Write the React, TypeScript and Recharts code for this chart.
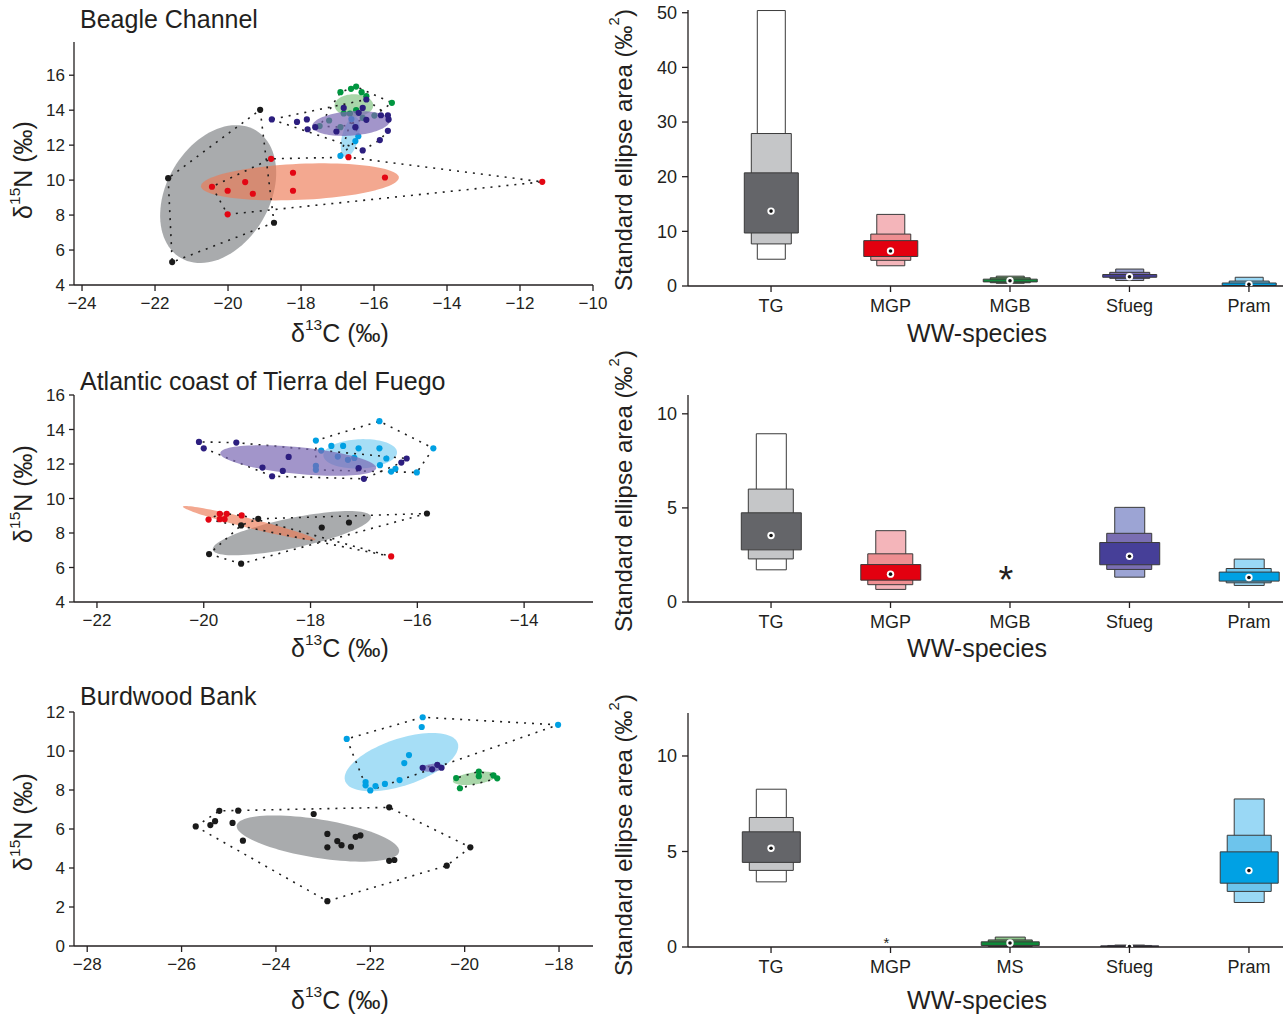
import React from 'react';
import { ScatterChart, Scatter, XAxis, YAxis, ComposedChart, Bar, Cell } from 'recharts';

type Pt = [number, number];

const FONT = '"Liberation Sans", Arial, Helvetica, sans-serif';
const INK = '#231f20';

// ---------- Beagle Channel: isotope values (d13C, d15N) ----------
const BC_TG: Pt[] = [[-21.64, 10.11], [-19.12, 14.02], [-18.74, 7.56], [-21.53, 5.31]];
const BC_MGP: Pt[] = [[-20.44, 9.62], [-20.01, 9.39], [-19.53, 9.89], [-19.32, 9.22], [-18.82, 11.22], [-20.01, 8.04], [-18.22, 10.42], [-18.22, 9.39], [-15.7, 10.15], [-16.7, 11.31], [-11.39, 9.9]];
const BC_SFUEG: Pt[] = [[-18.8, 13.47], [-18.11, 13.33], [-17.84, 13.47], [-17.82, 12.91], [-17.61, 13.03], [-17.03, 12.78], [-16.83, 14.13], [-16.31, 14.13], [-16.21, 14.61], [-16.42, 13.85], [-16.21, 13.45], [-15.81, 13.71], [-15.62, 13.71], [-15.6, 13.47], [-15.62, 12.82], [-15.84, 12.29], [-16.31, 11.7], [-16.51, 13.03]];
const BC_MGB: Pt[] = [[-16.92, 15.03], [-16.63, 15.22], [-16.49, 15.35], [-16.34, 15.03], [-16.21, 14.8], [-15.51, 14.42], [-17.49, 13.09], [-17.23, 13.41], [-16.92, 13.03], [-16.83, 13.81], [-16.66, 13.81], [-16.49, 14.0], [-16.31, 13.56], [-15.99, 13.69]];
const BC_PRAM: Pt[] = [[-16.62, 13.49], [-16.51, 13.03], [-16.43, 12.51], [-16.51, 12.23], [-16.92, 11.39]];
// standard ellipses: centre, end of one semi-axis, end of the other semi-axis
const BC_ELL_TG: Pt[] = [[-20.27, 9.2], [-19.25, 12.86], [-19.05, 7.73]];
const BC_ELL_MGP: Pt[] = [[-18.03, 9.9], [-15.32, 10.15], [-18.01, 8.87]];
const BC_ELL_SFUEG: Pt[] = [[-16.63, 13.24], [-15.57, 13.37], [-16.65, 12.54]];
const BC_ELL_MGB: Pt[] = [[-16.55, 14.27], [-16.02, 14.27], [-16.55, 14.91]];
const BC_ELL_PRAM: Pt[] = [[-16.65, 12.47], [-16.51, 13.62], [-16.43, 12.36]];

// ---------- Atlantic coast of Tierra del Fuego ----------
const AT_TG: Pt[] = [[-18.98, 8.82], [-19.3, 8.44], [-17.79, 8.32], [-17.28, 8.61], [-15.82, 9.13], [-19.9, 6.78], [-19.3, 6.22]];
const AT_MGP: Pt[] = [[-19.91, 8.78], [-19.7, 9.11], [-19.57, 9.11], [-19.7, 8.8], [-19.61, 8.8], [-19.29, 9.02], [-16.49, 6.64]];
const AT_SFUEG: Pt[] = [[-20.09, 13.28], [-20.0, 12.91], [-19.39, 13.24], [-18.41, 12.41], [-18.9, 11.79], [-18.52, 11.6], [-18.72, 11.29], [-17.1, 11.76], [-17.0, 11.14], [-16.3, 12.08], [-16.2, 12.32]];
const AT_PRAM: Pt[] = [[-16.71, 14.48], [-17.9, 13.36], [-17.8, 12.78], [-17.61, 13.05], [-17.39, 13.05], [-17.1, 12.91], [-16.71, 12.91], [-16.58, 12.32], [-16.7, 11.93], [-16.49, 11.56], [-16.41, 11.72], [-16.01, 11.51], [-15.7, 12.91], [-17.49, 12.43], [-17.3, 12.24], [-17.18, 12.35], [-17.9, 11.89], [-17.9, 11.66]];
const AT_ELL_TG: Pt[] = [[-18.35, 7.99], [-16.87, 8.96], [-18.28, 7.15]];
const AT_ELL_MGP: Pt[] = [[-19.15, 8.57], [-17.91, 7.61], [-19.18, 8.31]];
const AT_ELL_SFUEG: Pt[] = [[-18.23, 12.2], [-16.77, 11.76], [-18.26, 11.43]];
const AT_ELL_PRAM: Pt[] = [[-17.07, 12.59], [-16.38, 12.66], [-17.08, 11.74]];

// ---------- Burdwood Bank ----------
const BB_TG: Pt[] = [[-25.7, 6.13], [-25.39, 6.2], [-25.29, 6.4], [-25.2, 6.93], [-24.92, 6.31], [-24.8, 6.94], [-24.7, 5.4], [-23.2, 6.77], [-21.6, 7.11], [-19.88, 5.06], [-20.38, 4.12], [-22.91, 2.3], [-22.91, 5.75], [-22.7, 5.38], [-22.61, 5.17], [-22.41, 5.09], [-22.31, 5.6], [-22.21, 5.67], [-22.91, 5.06], [-21.6, 4.37], [-21.49, 4.41]];
const BB_PRAM: Pt[] = [[-22.5, 10.62], [-20.89, 11.73], [-20.91, 11.23], [-18.02, 11.34], [-21.18, 9.79], [-21.28, 9.38], [-22.1, 8.41], [-22.1, 8.24], [-22.0, 7.98], [-21.89, 8.2], [-21.69, 8.31], [-21.38, 8.51]];
const BB_SFUEG: Pt[] = [[-20.89, 9.14], [-20.69, 9.06], [-20.49, 9.14], [-20.58, 9.29]];
const BB_MS: Pt[] = [[-20.18, 8.61], [-20.1, 8.09], [-19.7, 8.95], [-19.7, 8.71], [-19.39, 8.75], [-19.31, 8.6]];
const BB_ELL_TG: Pt[] = [[-23.11, 5.51], [-21.39, 4.83], [-23.19, 4.54]];
const BB_ELL_PRAM: Pt[] = [[-21.34, 9.43], [-20.15, 10.42], [-21.16, 8.31]];
const BB_ELL_MS: Pt[] = [[-19.79, 8.6], [-19.33, 8.75], [-19.78, 8.29]];
const BB_ELL_SFUEG: Pt[] = [[-20.68, 9.14], [-20.44, 9.19], [-20.68, 8.94]];

// ---------- Standard ellipse areas (credible intervals 95/75/50 %, mode) ----------
const BC_CATS = ['TG', 'MGP', 'MGB', 'Sfueg', 'Pram'];
const BC_CI95 = [[4.9, 50.4], [3.7, 13.1], [0.5, 1.8], [1.0, 3.1], [0.0, 1.6]];
const BC_CI75 = [[7.7, 27.9], [4.7, 9.5], [0.6, 1.5], [1.4, 2.5], [0.05, 0.9]];
const BC_CI50 = [[9.7, 20.7], [5.4, 8.3], [0.75, 1.25], [1.6, 2.1], [0.1, 0.55]];
const BC_MODE = [13.7, 6.4, 0.95, 1.7, 0.3];
const BC_STAR: (number | null)[] = [null, null, null, null, null];

const AT_CATS = ['TG', 'MGP', 'MGB', 'Sfueg', 'Pram'];
const AT_CI95 = [[1.71, 8.94], [0.67, 3.79], null, [1.32, 5.03], [0.88, 2.28]];
const AT_CI75 = [[2.29, 6.0], [0.92, 2.56], null, [1.73, 3.65], [1.02, 1.78]];
const AT_CI50 = [[2.77, 4.74], [1.16, 1.99], null, [1.98, 3.16], [1.11, 1.59]];
const AT_MODE = [3.53, 1.48, null, 2.43, 1.3];
const AT_STAR = [null, null, 1.59, null, null];

const BB_CATS = ['TG', 'MGP', 'MS', 'Sfueg', 'Pram'];
const BB_CI95 = [[3.41, 8.26], null, [0.0, 0.52], [0.0, 0.1], [2.33, 7.75]];
const BB_CI75 = [[4.01, 6.78], null, [0.03, 0.37], [0.0, 0.08], [2.91, 5.85]];
const BB_CI50 = [[4.43, 6.03], null, [0.08, 0.27], [0.01, 0.06], [3.34, 4.98]];
const BB_MODE = [5.17, null, 0.21, 0.02, 4.0];
const BB_STAR = [null, 0.38, null, null, null];

// ---------- styles ----------
const SP: Record<string, { pt: string; el: string; op: number; box: string[] }> = {
  TG: { pt: '#1a1a1a', el: '#9a9c9f', op: 0.85, box: ['#ffffff', '#c5c6c8', '#646569'] },
  MGP: { pt: '#e30613', el: '#ec7a55', op: 0.65, box: ['#f4b5ba', '#ee8e91', '#e3000f'] },
  MGB: { pt: '#009640', el: '#62b463', op: 0.55, box: ['#8cc58a', '#4f9e55', '#0f8a3a'] },
  MS: { pt: '#009640', el: '#62b463', op: 0.55, box: ['#8cc58a', '#4f9e55', '#0f8a3a'] },
  Sfueg: { pt: '#2c1e7f', el: '#7a68b3', op: 0.7, box: ['#9ca4d4', '#7a6eb2', '#463f98'] },
  Pram: { pt: '#00a0e3', el: '#5cc3ef', op: 0.55, box: ['#9ad8f5', '#6dc4ec', '#00a1e4'] },
};

const fmt = (v: number) => (v < 0 ? '\u2212' + Math.abs(v) : String(v));
const toXY = (a: Pt[]) => a.map(([x, y]) => ({ x, y }));

function hull(pts: Pt[]) {
  const p = toXY(pts).sort((a, b) => a.x - b.x || a.y - b.y);
  if (p.length < 3) return p;
  const cr = (o: any, a: any, b: any) => (a.x - o.x) * (b.y - o.y) - (a.y - o.y) * (b.x - o.x);
  const lo: any[] = [];
  for (const q of p) {
    while (lo.length >= 2 && cr(lo[lo.length - 2], lo[lo.length - 1], q) <= 0) lo.pop();
    lo.push(q);
  }
  const up: any[] = [];
  for (const q of [...p].reverse()) {
    while (up.length >= 2 && cr(up[up.length - 2], up[up.length - 1], q) <= 0) up.pop();
    up.push(q);
  }
  lo.pop();
  up.pop();
  const h = lo.concat(up);
  h.push(h[0]);
  return h;
}

function ellipseLine(fill: string, op: number) {
  return (props: any) => {
    const p = props.points;
    if (!p || p.length < 3) return <g />;
    const c = p[0], u = p[1], v = p[2];
    const ux = u.x - c.x, uy = u.y - c.y, vx = v.x - c.x, vy = v.y - c.y;
    let d = '';
    const N = 96;
    for (let k = 0; k < N; k++) {
      const t = (k / N) * Math.PI * 2;
      const x = c.x + ux * Math.cos(t) + vx * Math.sin(t);
      const y = c.y + uy * Math.cos(t) + vy * Math.sin(t);
      d += (k === 0 ? 'M' : 'L') + x.toFixed(2) + ',' + y.toFixed(2);
    }
    return <path d={d + 'Z'} fill={fill} fillOpacity={op} stroke="none" />;
  };
}

const none = () => <g />;

interface Group { sp: string; pts: Pt[]; ell: Pt[] }

function IsoPanel({ plotTop, plotBottom, xDomain, xTicks, yDomain, yTicks, groups }: {
  plotTop: number; plotBottom: number; xDomain: [number, number]; xTicks: number[];
  yDomain: [number, number]; yTicks: number[]; groups: Group[];
}) {
  const top = plotTop - 20;
  const height = plotBottom - plotTop + 60;
  const back = groups.filter((g) => g.sp !== 'Sfueg');
  const front = groups.filter((g) => g.sp === 'Sfueg');
  const tickStyle = { fontSize: 17, fill: INK, fontFamily: FONT };
  const axisStyle = { stroke: INK, strokeWidth: 1.3 };
  return (
    <div style={{ position: 'absolute', left: 0, top, width: 610, height }}>
      <ScatterChart width={610} height={height} margin={{ top: 20, right: 17, left: 34, bottom: 0 }}>
        <XAxis type="number" dataKey="x" domain={xDomain} ticks={xTicks} allowDataOverflow interval={0}
          tickFormatter={fmt} height={40} tick={tickStyle} axisLine={axisStyle} tickLine={axisStyle} tickSize={6} tickMargin={6} />
        <YAxis type="number" dataKey="y" domain={yDomain} ticks={yTicks} allowDataOverflow interval={0}
          tickFormatter={fmt} width={40} tick={tickStyle} axisLine={axisStyle} tickLine={axisStyle} tickSize={5} tickMargin={4} />
        {back.map((g) => (
          <Scatter key={'e' + g.sp} data={toXY(g.ell)} shape={none} line={ellipseLine(SP[g.sp].el, SP[g.sp].op)} isAnimationActive={false} />
        ))}
        {groups.map((g) => (
          <Scatter key={'h' + g.sp} data={hull(g.pts)} shape={none}
            line={{ stroke: '#1e1e1e', strokeWidth: 1.6, strokeDasharray: '2 6' }} isAnimationActive={false} />
        ))}
        {back.map((g) => (
          <Scatter key={'p' + g.sp} data={toXY(g.pts)} isAnimationActive={false}
            shape={(p: any) => <circle cx={p.cx} cy={p.cy} r={3.1} fill={SP[g.sp].pt} />} />
        ))}
        {front.map((g) => (
          <Scatter key={'e' + g.sp} data={toXY(g.ell)} shape={none} line={ellipseLine(SP[g.sp].el, SP[g.sp].op)} isAnimationActive={false} />
        ))}
        {front.map((g) => (
          <Scatter key={'p' + g.sp} data={toXY(g.pts)} isAnimationActive={false}
            shape={(p: any) => <circle cx={p.cx} cy={p.cy} r={3.1} fill={SP[g.sp].pt} />} />
        ))}
      </ScatterChart>
    </div>
  );
}

function SeaPanel({ plotTop, plotBottom, cats, ci95, ci75, ci50, mode, star, starSize, yMax, yTicks, widths }: {
  plotTop: number; plotBottom: number; cats: string[]; ci95: any[]; ci75: any[]; ci50: any[];
  mode: (number | null)[]; star: (number | null)[]; starSize: number; yMax: number; yTicks: number[]; widths: number[];
}) {
  const top = Math.max(0, plotTop - 20);
  const mTop = plotTop - top;
  const height = plotBottom - top + 40;
  const rows = cats.map((c, i) => ({
    i, c,
    ci95: ci95[i] ?? [0, 0], ci75: ci75[i] ?? [0, 0], ci50: ci50[i] ?? [0, 0],
    missing: ci95[i] == null,
  }));
  const modeRows = mode.map((v, i) => ({ i, v })).filter((r) => r.v != null);
  const starRows = star.map((v, i) => ({ i, v })).filter((r) => r.v != null);
  const tickStyle = { fontSize: 18, fill: INK, fontFamily: FONT };
  const axisStyle = { stroke: INK, strokeWidth: 1.3 };
  const dom: [number, number] = [-0.695, 4.285];
  const ticks = [0, 1, 2, 3, 4];
  const layers: [string, string, number, number][] = [
    ['ci95', 'b', widths[0], 0],
    ['ci75', 'c', widths[1], 1],
    ['ci50', 'a', widths[2], 2],
  ];
  return (
    <div style={{ position: 'absolute', left: 640, top, width: 645, height }}>
      <ComposedChart width={645} height={height} data={rows} margin={{ top: mTop, right: 2, left: 8, bottom: 0 }}>
        <XAxis xAxisId="a" type="number" dataKey="i" domain={dom} ticks={ticks} allowDataOverflow interval={0}
          tickFormatter={(v: number) => cats[v] ?? ''} height={40} tick={tickStyle} axisLine={axisStyle} tickLine={axisStyle} tickSize={6} tickMargin={7} />
        <XAxis xAxisId="b" type="number" dataKey="i" domain={dom} ticks={ticks} allowDataOverflow hide height={0}
          tick={false} tickLine={false} axisLine={false} />
        <XAxis xAxisId="c" type="number" dataKey="i" domain={dom} ticks={ticks} allowDataOverflow hide height={0}
          tick={false} tickLine={false} axisLine={false} />
        <YAxis type="number" domain={[0, yMax]} ticks={yTicks} allowDataOverflow interval={0}
          width={40} tick={tickStyle} axisLine={axisStyle} tickLine={axisStyle} tickSize={6} tickMargin={5} />
        {layers.map(([key, axis, w, li]) => (
          <Bar key={key} xAxisId={axis} dataKey={key} barSize={w} isAnimationActive={false}>
            {rows.map((r) => (
              <Cell key={r.c} fill={r.missing ? 'none' : SP[r.c].box[li]} stroke={r.missing ? 'none' : '#3a3a3a'} strokeWidth={1} />
            ))}
          </Bar>
        ))}
        <Scatter xAxisId="a" data={modeRows} dataKey="v" isAnimationActive={false}
          shape={(p: any) => (
            <g>
              <circle cx={p.cx} cy={p.cy} r={3.7} fill="#ffffff" />
              <circle cx={p.cx} cy={p.cy} r={1.8} fill="#111111" />
            </g>
          )} />
        {starRows.length > 0 && (
          <Scatter xAxisId="a" data={starRows} dataKey="v" isAnimationActive={false}
            shape={(p: any) => (
              <text x={p.cx - 4} y={p.cy + starSize * 0.55} textAnchor="middle" fontSize={starSize} fontFamily={FONT} fill={INK}>*</text>
            )} />
        )}
      </ComposedChart>
    </div>
  );
}

const T = { fontFamily: FONT, fill: INK };

function Sup({ base, sup, rest, size }: { base: string; sup: string; rest: string; size: number }) {
  return (
    <>
      {base}
      <tspan dy={-size * 0.36} fontSize={size * 0.62}>{sup}</tspan>
      <tspan dy={size * 0.36}>{rest}</tspan>
    </>
  );
}

function Labels() {
  const L = 25;
  const rows = [
    { title: 'Beagle Channel', ty: 28, ny: 170, cy: 333, sy: 150 },
    { title: 'Atlantic coast of Tierra del Fuego', ty: 390, ny: 494, cy: 648, sy: 491 },
    { title: 'Burdwood Bank', ty: 705, ny: 822, cy: 1000, sy: 835 },
  ];
  return (
    <svg width={1285} height={1016} style={{ position: 'absolute', left: 0, top: 0, pointerEvents: 'none' }}>
      {rows.map((r) => (
        <g key={r.title}>
          <text x={80} y={r.ty} fontSize={L} {...T}>{r.title}</text>
          <text transform="rotate(-90)" x={-r.ny} y={23} fontSize={L} textAnchor="middle" dominantBaseline="central" {...T}>
            <Sup base={'\u03b4'} sup="15" rest={'N (\u2030)'} size={L} />
          </text>
          <text x={340} y={r.cy} fontSize={L} textAnchor="middle" dominantBaseline="central" {...T}>
            <Sup base={'\u03b4'} sup="13" rest={'C (\u2030)'} size={L} />
          </text>
          <text transform="rotate(-90)" x={-r.sy} y={623} fontSize={24} textAnchor="middle" dominantBaseline="central" {...T}>
            <Sup base={'Standard ellipse area (\u2030'} sup="2" rest=")" size={24} />
          </text>
          <text x={977} y={r.cy} fontSize={L} textAnchor="middle" dominantBaseline="central" {...T}>WW-species</text>
        </g>
      ))}
    </svg>
  );
}

export default function App() {
  return (
    <div style={{ position: 'absolute', left: 0, top: 0, width: 1285, height: 1016, background: '#ffffff', overflow: 'hidden', fontFamily: FONT }}>
      <IsoPanel plotTop={42} plotBottom={285} xDomain={[-24.22, -10]} xTicks={[-24, -22, -20, -18, -16, -14, -12, -10]}
        yDomain={[4, 17.9]} yTicks={[4, 6, 8, 10, 12, 14, 16]}
        groups={[
          { sp: 'TG', pts: BC_TG, ell: BC_ELL_TG },
          { sp: 'MGP', pts: BC_MGP, ell: BC_ELL_MGP },
          { sp: 'MGB', pts: BC_MGB, ell: BC_ELL_MGB },
          { sp: 'Pram', pts: BC_PRAM, ell: BC_ELL_PRAM },
          { sp: 'Sfueg', pts: BC_SFUEG, ell: BC_ELL_SFUEG },
        ]} />
      <IsoPanel plotTop={395} plotBottom={602} xDomain={[-22.43, -12.71]} xTicks={[-22, -20, -18, -16, -14]}
        yDomain={[4, 16]} yTicks={[4, 6, 8, 10, 12, 14, 16]}
        groups={[
          { sp: 'TG', pts: AT_TG, ell: AT_ELL_TG },
          { sp: 'MGP', pts: AT_MGP, ell: AT_ELL_MGP },
          { sp: 'Pram', pts: AT_PRAM, ell: AT_ELL_PRAM },
          { sp: 'Sfueg', pts: AT_SFUEG, ell: AT_ELL_SFUEG },
        ]} />
      <IsoPanel plotTop={712} plotBottom={946} xDomain={[-28.28, -17.28]} xTicks={[-28, -26, -24, -22, -20, -18]}
        yDomain={[0, 12]} yTicks={[0, 2, 4, 6, 8, 10, 12]}
        groups={[
          { sp: 'TG', pts: BB_TG, ell: BB_ELL_TG },
          { sp: 'Pram', pts: BB_PRAM, ell: BB_ELL_PRAM },
          { sp: 'MS', pts: BB_MS, ell: BB_ELL_MS },
          { sp: 'Sfueg', pts: BB_SFUEG, ell: BB_ELL_SFUEG },
        ]} />
      <SeaPanel plotTop={10} plotBottom={286} cats={BC_CATS} ci95={BC_CI95} ci75={BC_CI75} ci50={BC_CI50}
        mode={BC_MODE} star={BC_STAR} starSize={34} yMax={50.5} yTicks={[0, 10, 20, 30, 40, 50]} widths={[28, 40, 54]} />
      <SeaPanel plotTop={395} plotBottom={602} cats={AT_CATS} ci95={AT_CI95} ci75={AT_CI75} ci50={AT_CI50}
        mode={AT_MODE} star={AT_STAR} starSize={38} yMax={11} yTicks={[0, 5, 10]} widths={[30, 45, 60]} />
      <SeaPanel plotTop={713} plotBottom={947} cats={BB_CATS} ci95={BB_CI95} ci75={BB_CI75} ci50={BB_CI50}
        mode={BB_MODE} star={BB_STAR} starSize={15} yMax={12.25} yTicks={[0, 5, 10]} widths={[30, 44, 58]} />
      <Labels />
    </div>
  );
}
